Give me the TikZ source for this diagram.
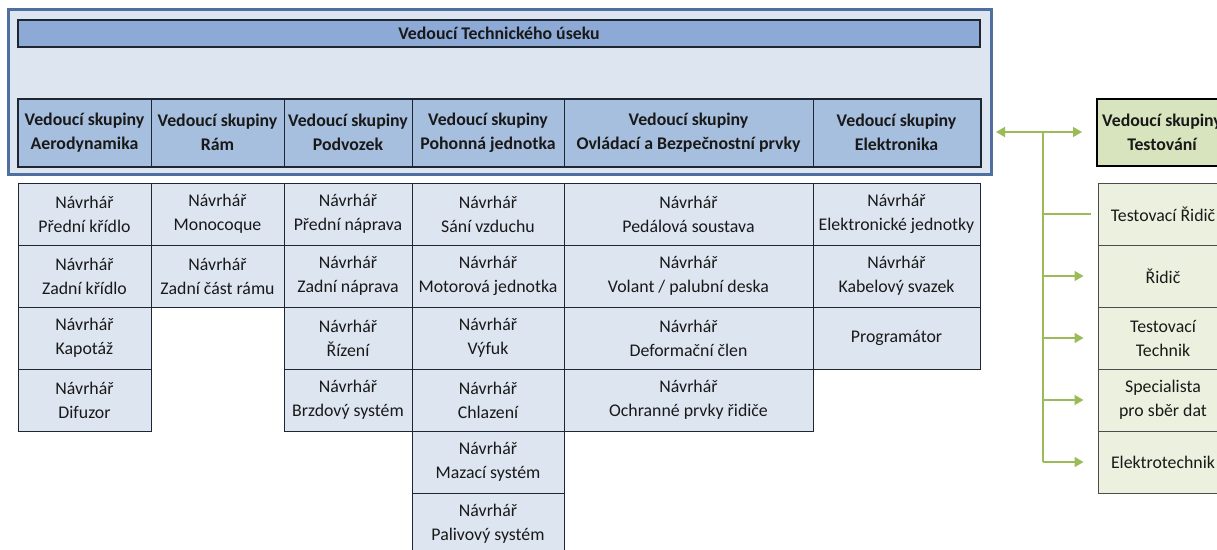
\documentclass[tikz,border=0pt]{standalone}
\usepackage{fontspec}
\setmainfont{Carlito}
\usetikzlibrary{arrows.meta}
\definecolor{outerfill}{RGB}{221,229,241}
\definecolor{outerdraw}{RGB}{79,111,160}
\definecolor{titlefill}{RGB}{141,170,214}
\definecolor{headfill}{RGB}{167,191,223}
\definecolor{cellfill}{RGB}{220,229,240}
\definecolor{darkline}{RGB}{30,38,50}
\definecolor{testhead}{RGB}{215,228,189}
\definecolor{testcell}{RGB}{235,241,222}
\definecolor{conngreen}{RGB}{155,187,89}
\tikzset{
  txt/.style={font=\fontsize{17.8}{24}\selectfont, align=center, inner sep=0pt, text=black!90},
  outerbox/.style={draw=outerdraw, line width=3pt, fill=outerfill},
  titlebar/.style={txt, draw=darkline, line width=2pt, fill=titlefill, font=\fontsize{17.8}{24}\selectfont\bfseries},
  headcell/.style={txt, draw=darkline, line width=1pt, fill=headfill, font=\fontsize{17.8}{24}\selectfont\bfseries},
  headframe/.style={draw=darkline, line width=2pt},
  designcell/.style={txt, draw=darkline, line width=0.9pt, fill=cellfill, minimum height=62pt},
  testheadbox/.style={txt, draw=black, line width=2pt, fill=testhead, font=\fontsize{17.8}{24}\selectfont\bfseries, minimum width=130pt, minimum height=67pt},
  testcellbox/.style={txt, draw=black!70, line width=1pt, fill=testcell, minimum width=130pt, minimum height=62pt},
  conn/.style={draw=conngreen, line width=1.5pt},
  tip/.style={-{Triangle[length=9pt,width=10pt]}}
}
\begin{document}
\begin{tikzpicture}[x=1pt,y=-1pt]
\useasboundingbox (0,0) rectangle (1217,549);
\clip (0,0) rectangle (1217,549);
% outer frame
\node[outerbox, minimum width=983pt, minimum height=165pt, inner sep=0pt] (outer) at (500,92) {};
% title
\node[titlebar, minimum width=962pt, minimum height=27pt] (title) at (499,33.5) {Vedoucí Technického úseku};
% group headers (columns: 18,151,284,412,564,813,980)
\node[headcell, minimum width=133pt, minimum height=67pt] (gA) at (84.5,132.5) {Vedoucí skupiny\\Aerodynamika};
\node[headcell, minimum width=133pt, minimum height=67pt] (gR) at (217.5,132.5) {Vedoucí skupiny\\Rám};
\node[headcell, minimum width=128pt, minimum height=67pt] (gP) at (348,132.5) {Vedoucí skupiny\\Podvozek};
\node[headcell, minimum width=152pt, minimum height=67pt] (gM) at (488,132.5) {Vedoucí skupiny\\Pohonná jednotka};
\node[headcell, minimum width=249pt, minimum height=67pt] (gO) at (688.5,132.5) {Vedoucí skupiny\\Ovládací a Bezpečnostní prvky};
\node[headcell, minimum width=167pt, minimum height=67pt] (gE) at (896.5,132.5) {Vedoucí skupiny\\Elektronika};
\draw[headframe] (gA.north west) rectangle (gE.south east);
% designers: rows centres 214,276,338,400,462,524
\node[designcell, minimum width=133pt] (a1) at (84.5,214) {Návrhář\\Přední křídlo};
\node[designcell, minimum width=133pt] (a2) at (84.5,276) {Návrhář\\Zadní křídlo};
\node[designcell, minimum width=133pt] (a3) at (84.5,338) {Návrhář\\Kapotáž};
\node[designcell, minimum width=133pt] (a4) at (84.5,400) {Návrhář\\Difuzor};
\node[designcell, minimum width=133pt] (r1) at (217.5,214) {Návrhář\\Monocoque};
\node[designcell, minimum width=133pt] (r2) at (217.5,276) {Návrhář\\Zadní část rámu};
\node[designcell, minimum width=128pt] (p1) at (348,214) {Návrhář\\Přední náprava};
\node[designcell, minimum width=128pt] (p2) at (348,276) {Návrhář\\Zadní náprava};
\node[designcell, minimum width=128pt] (p3) at (348,338) {Návrhář\\Řízení};
\node[designcell, minimum width=128pt] (p4) at (348,400) {Návrhář\\Brzdový systém};
\node[designcell, minimum width=152pt] (m1) at (488,214) {Návrhář\\Sání vzduchu};
\node[designcell, minimum width=152pt] (m2) at (488,276) {Návrhář\\Motorová jednotka};
\node[designcell, minimum width=152pt] (m3) at (488,338) {Návrhář\\Výfuk};
\node[designcell, minimum width=152pt] (m4) at (488,400) {Návrhář\\Chlazení};
\node[designcell, minimum width=152pt] (m5) at (488,462) {Návrhář\\Mazací systém};
\node[designcell, minimum width=152pt] (m6) at (488,524) {Návrhář\\Palivový systém};
\node[designcell, minimum width=249pt] (o1) at (688.5,214) {Návrhář\\Pedálová soustava};
\node[designcell, minimum width=249pt] (o2) at (688.5,276) {Návrhář\\Volant / palubní deska};
\node[designcell, minimum width=249pt] (o3) at (688.5,338) {Návrhář\\Deformační člen};
\node[designcell, minimum width=249pt] (o4) at (688.5,400) {Návrhář\\Ochranné prvky řidiče};
\node[designcell, minimum width=167pt] (e1) at (896.5,214) {Návrhář\\Elektronické jednotky};
\node[designcell, minimum width=167pt] (e2) at (896.5,276) {Návrhář\\Kabelový svazek};
\node[designcell, minimum width=167pt] (e3) at (896.5,338) {Programátor};
% testing group
\node[testheadbox] (th) at (1162,132.5) {Vedoucí skupiny\\Testování};
\node[testcellbox] (t1) at (1163,214) {Testovací Řidič};
\node[testcellbox] (t2) at (1163,276) {Řidič};
\node[testcellbox] (t3) at (1163,338) {Testovací\\Technik};
\node[testcellbox] (t4) at (1163,400) {Specialista\\pro sběr dat};
\node[testcellbox] (t5) at (1163,462) {Elektrotechnik};
% connectors
\coordinate (hub) at (1043,132);
\draw[conn, tip, shorten >=3pt] (hub) -- (outer.east |- hub);
\draw[conn, tip, shorten >=14pt] (hub) -- (th.west |- hub);
\draw[conn] (hub) -- (hub |- t5.west);
\draw[conn, shorten >=7pt] (hub |- t1.west) -- (t1.west);
\draw[conn, tip, shorten >=14pt] (hub |- t2.west) -- (t2.west);
\draw[conn, tip, shorten >=14pt] (hub |- t3.west) -- (t3.west);
\draw[conn, tip, shorten >=14pt] (hub |- t4.west) -- (t4.west);
\draw[conn, tip, shorten >=14pt] (hub |- t5.west) -- (t5.west);
\end{tikzpicture}
\end{document}
